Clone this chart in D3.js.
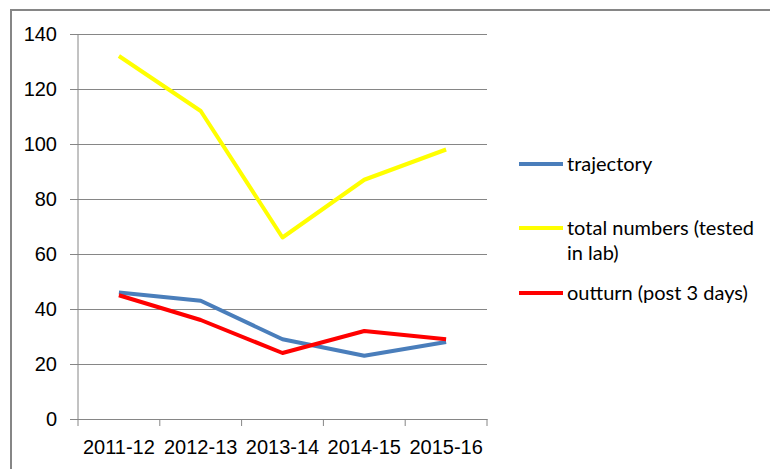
<!DOCTYPE html>
<html>
<head>
<meta charset="utf-8">
<script src="https://cdn.jsdelivr.net/npm/d3@7"></script>
<style>
  body { margin: 0; background: #fff; }
  svg { display: block; font-family: Lato, "Open Sans", sans-serif; }
</style>
</head>
<body>
<svg id="main"></svg>
<script>
const width = 770;
const height = 469;

const years = ['2011-12', '2012-13', '2013-14', '2014-15', '2015-16'];
const trajectory = [46, 43, 29, 23, 28];
const totalNumbers = [132, 112, 66, 87, 98];
const outturn = [45, 36, 24, 32, 29];
const yTicks = [0, 20, 40, 60, 80, 100, 120, 140];

const series = [
    { name: ['trajectory'], values: trajectory, color: '#4a7ebb' },
    { name: ['total numbers (tested', 'in lab)'], values: totalNumbers, color: '#ffff00' },
    { name: ['outturn (post 3 days)'], values: outturn, color: '#ff0000' }
];

const position = { left: 78, top: 34, right: 283, bottom: 50 };
const innerWidth = width - position.left - position.right;
const innerHeight = height - position.top - position.bottom;

const svg = d3.select('#main').attr('width', width).attr('height', height);

// outer frame: only its top and left edges are in view
svg.append('path')
    .attr('d', `M11,${height}V10H${width}`)
    .attr('fill', 'none')
    .attr('stroke', '#868686')
    .attr('stroke-width', 2);

const g = svg.append('g')
    .attr('transform', `translate(${position.left}, ${position.top})`);

const xScale = d3.scaleBand().domain(years).range([0, innerWidth]);
const yScale = d3.scaleLinear().domain([0, 140]).range([innerHeight, 0]);

// y axis with gridlines
const yAxis = d3.axisLeft(yScale)
    .tickValues(yTicks)
    .tickSize(-innerWidth)
    .tickPadding(21);
g.append('g').attr('class', 'y-axis').call(yAxis)
    .call(s => s.select('.domain').remove())
    .call(s => s.selectAll('.tick line')
        .attr('x1', -8)
        .attr('stroke', '#868686'))
    .call(s => s.selectAll('.tick text')
        .attr('font-size', 20)
        .attr('fill', '#000'));

// y axis line
g.append('line')
    .attr('x1', 0).attr('x2', 0)
    .attr('y1', 0).attr('y2', innerHeight)
    .attr('stroke', '#868686');

// x axis: ticks sit on the category boundaries
const xAxis = d3.axisBottom(xScale).tickSize(0).tickPadding(21);
const xg = g.append('g').attr('class', 'x-axis')
    .attr('transform', `translate(0,${innerHeight})`)
    .call(xAxis);
xg.select('.domain').attr('stroke', '#868686');
xg.selectAll('.tick text').attr('font-size', 20).attr('fill', '#000');
xg.selectAll('.bound')
    .data(years.map(y => xScale(y)).concat([innerWidth]))
    .join('line')
    .attr('class', 'bound')
    .attr('x1', d => d).attr('x2', d => d)
    .attr('y1', 0).attr('y2', 7)
    .attr('stroke', '#868686');

// lines
const line = d3.line()
    .x((d, i) => xScale(years[i]) + xScale.bandwidth() / 2)
    .y(d => yScale(d));

g.selectAll('.series')
    .data(series)
    .join('path')
    .attr('class', 'series')
    .attr('fill', 'none')
    .attr('stroke', d => d.color)
    .attr('stroke-width', 4)
    .attr('stroke-linejoin', 'round')
    .attr('d', d => line(d.values));

// legend
const legendY = [164, 228, 293];
const legend = svg.append('g').attr('transform', 'translate(519, 0)');
const items = legend.selectAll('g')
    .data(series)
    .join('g')
    .attr('transform', (d, i) => `translate(0, ${legendY[i]})`);
items.append('line')
    .attr('x1', 0).attr('x2', 44)
    .attr('stroke', d => d.color)
    .attr('stroke-width', 4);
items.append('text')
    .attr('x', 48)
    .attr('font-size', 20)
    .attr('fill', '#000')
    .selectAll('tspan')
    .data(d => d.name)
    .join('tspan')
    .attr('x', 48)
    .attr('dy', (d, i) => i === 0 ? '0.35em' : 25)
    .text(d => d);
</script>
</body>
</html>
